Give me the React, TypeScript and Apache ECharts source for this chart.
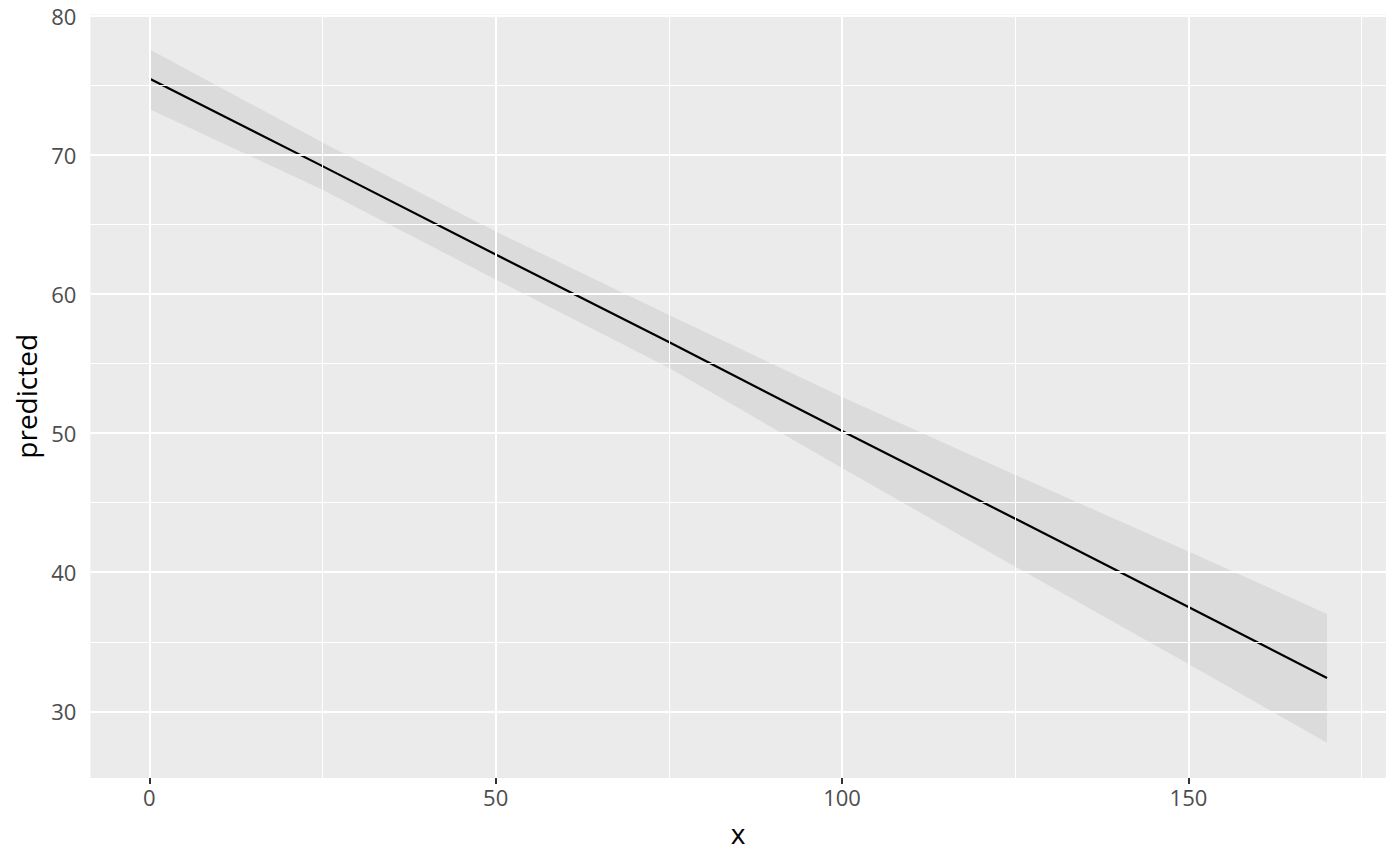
import React, { useEffect, useRef } from "react";
import * as echarts from "echarts";

// Data
const xValues = [0, 25, 50, 75, 100, 125, 150, 170];
const predicted = [75.5, 69.2, 62.85, 56.55, 50.15, 43.85, 37.5, 32.4];
const upperCI = [77.6, 70.9, 64.5, 58.5, 52.6, 47.0, 41.5, 37.0];
const lowerCI = [73.3, 67.5, 61.05, 54.7, 47.5, 40.4, 33.4, 27.75];

const xTicks = [0, 50, 100, 150];
const xMinorGrid = [25, 75, 125, 175];
const yTicks = [30, 40, 50, 60, 70, 80];
const yMinorGrid = [35, 45, 55, 65, 75];

const X_MIN = -8.5;
const X_MAX = 178.5;
const Y_MIN = 25.2;
const Y_MAX = 80.1;

const FONT = "'Open Sans', 'Noto Sans', sans-serif";

export default function App() {
  const ref = useRef<HTMLDivElement>(null);

  useEffect(() => {
    if (!ref.current) return;
    const chart = echarts.init(ref.current, null, { renderer: "svg" });

    const gridLines = [
      ...xMinorGrid.map((v) => ({ xAxis: v, lineStyle: { width: 1 } })),
      ...yMinorGrid.map((v) => ({ yAxis: v, lineStyle: { width: 1 } })),
      ...xTicks.map((v) => ({ xAxis: v, lineStyle: { width: 2 } })),
      ...yTicks.map((v) => ({ yAxis: v, lineStyle: { width: 2 } })),
    ];

    const bandData = xValues.map((x, i) => [x, lowerCI[i], upperCI[i]]);

    chart.setOption({
      animation: false,
      backgroundColor: "#FFFFFF",
      grid: {
        left: 90.4,
        right: 14.1,
        top: 14.5,
        bottom: 87.9,
        show: true,
        backgroundColor: "#EBEBEB",
        borderWidth: 0,
        containLabel: false,
        outerBoundsMode: "none",
      },
      xAxis: {
        type: "value",
        min: X_MIN,
        max: X_MAX,
        name: "x",
        nameLocation: "middle",
        nameGap: 41,
        nameTextStyle: { fontFamily: FONT, fontSize: 28, color: "#000000" },
        axisLine: { show: false },
        axisTick: {
          show: true,
          length: 6,
          customValues: xTicks,
          lineStyle: { color: "#333333", width: 2 },
        },
        axisLabel: {
          customValues: xTicks,
          margin: 8,
          fontFamily: FONT,
          fontSize: 22,
          color: "#4D4D4D",
        },
        splitLine: { show: false },
      },
      yAxis: {
        type: "value",
        min: Y_MIN,
        max: Y_MAX,
        name: "predicted",
        nameLocation: "middle",
        nameGap: 47,
        nameTextStyle: { fontFamily: FONT, fontSize: 28, color: "#000000" },
        axisLine: { show: false },
        axisTick: {
          show: true,
          length: 6,
          customValues: yTicks,
          lineStyle: { color: "#333333", width: 2 },
        },
        axisLabel: {
          customValues: yTicks,
          margin: 14,
          fontFamily: FONT,
          fontSize: 22,
          color: "#4D4D4D",
        },
        splitLine: { show: false },
      },
      series: [
        {
          name: "grid",
          type: "line",
          z: 1,
          data: [],
          silent: true,
          markLine: {
            silent: true,
            symbol: ["none", "none"],
            label: { show: false },
            lineStyle: { color: "#FFFFFF", type: "solid" },
            emphasis: { disabled: true },
            data: gridLines,
          },
        },
        {
          name: "band",
          type: "custom",
          z: 2,
          silent: true,
          data: bandData,
          encode: { x: 0, y: [1, 2] },
          renderItem: (params: any, api: any) => {
            if (params.dataIndex !== 0) return null;
            const pts: number[][] = [];
            for (let i = 0; i < bandData.length; i++) {
              pts.push(api.coord([bandData[i][0], bandData[i][2]]));
            }
            for (let i = bandData.length - 1; i >= 0; i--) {
              pts.push(api.coord([bandData[i][0], bandData[i][1]]));
            }
            return {
              type: "polygon",
              shape: { points: pts },
              style: { fill: "rgba(153,153,153,0.2)", stroke: "none" },
            };
          },
        },
        {
          name: "predicted",
          type: "line",
          z: 3,
          data: xValues.map((x, i) => [x, predicted[i]]),
          showSymbol: false,
          symbol: "none",
          lineStyle: { color: "#000000", width: 2.2 },
          silent: true,
        },
      ],
    });

    return () => {
      chart.dispose();
    };
  }, []);

  return (
    <div
      ref={ref}
      style={{ position: "absolute", left: 0, top: 0, width: 1400, height: 866 }}
    />
  );
}
